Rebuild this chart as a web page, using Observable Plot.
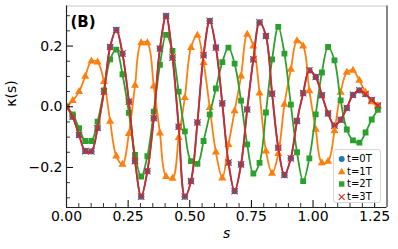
<!DOCTYPE html>
<html><head><meta charset="utf-8">
<script src="https://cdn.jsdelivr.net/npm/d3@7"></script>
<script src="https://cdn.jsdelivr.net/npm/@observablehq/plot@0.6"></script>
<style>
html,body{margin:0;padding:0;background:#fff;}
#wrap{position:relative;width:398px;height:249px;font-family:"DejaVu Sans",sans-serif;}
#legend{position:absolute;left:333px;top:149px;width:48px;height:54px;box-sizing:border-box;border:1px solid #d6d6d6;border-radius:3px;background:rgba(255,255,255,0.85);}
.row{position:absolute;left:0;height:12px;width:46px;}
.row svg{position:absolute;left:2px;top:0;}
.row span{position:absolute;left:13px;top:-1px;font-size:10px;line-height:14px;color:#000;white-space:nowrap;}
</style></head><body><div id="wrap"></div>
<script>
// ---- data ----
const sVals = [0, 0.025, 0.051, 0.076, 0.101, 0.126, 0.152, 0.177, 0.202, 0.227,
  0.253, 0.278, 0.303, 0.328, 0.354, 0.379, 0.404, 0.430, 0.455, 0.480,
  0.505, 0.531, 0.556, 0.581, 0.606, 0.632, 0.657, 0.682, 0.708, 0.733,
  0.758, 0.783, 0.809, 0.834, 0.859, 0.884, 0.910, 0.935, 0.960, 0.985,
  1.011, 1.036, 1.061, 1.087, 1.112, 1.137, 1.162, 1.188, 1.213, 1.238, 1.263];
const kappaT0 = [0, -0.033, -0.093, -0.146, -0.147, -0.070, 0.050, 0.197, 0.253, 0.175,
  0.017, -0.179, -0.296, -0.212, -0.038, 0.192, 0.299, 0.162, -0.066, -0.296,
  -0.245, -0.052, 0.170, 0.283, 0.195, 0.011, -0.184, -0.278, -0.190, -0.009,
  0.156, 0.278, 0.233, 0.043, -0.135, -0.225, -0.170, -0.047, 0.045, 0.120,
  0.098, 0.038, -0.022, -0.062, -0.043, -0.004, 0.039, 0.054, 0.042, 0.022, 0.004];
const kappaT1 = [0, 0.020, 0.050, 0.100, 0.150, 0.147, 0.083, -0.048, -0.163, -0.190,
  -0.089, 0.070, 0.210, 0.210, 0.068, -0.087, -0.230, -0.236, -0.102, 0.030,
  0.195, 0.235, 0.145, -0.003, -0.150, -0.235, -0.125, -0.014, 0.101, 0.238,
  0.200, 0.045, -0.146, -0.220, -0.155, 0.008, 0.123, 0.217, 0.200, 0.052,
  -0.075, -0.185, -0.180, -0.080, 0.047, 0.113, 0.120, 0.087, 0.047, 0.016, 0.002];
const kappaT2 = [0, -0.025, -0.071, -0.113, -0.113, -0.049, 0.054, 0.156, 0.188, 0.107,
  -0.020, -0.159, -0.230, -0.163, -0.016, 0.138, 0.237, 0.184, 0.050, -0.081,
  -0.179, -0.188, -0.113, -0.025, 0.060, 0.147, 0.195, 0.142, 0.020, -0.124,
  -0.220, -0.185, -0.019, 0.156, 0.263, 0.175, 0.007, -0.150, -0.245, -0.170,
  -0.025, 0.113, 0.197, 0.153, 0.021, -0.075, -0.111, -0.118, -0.085, -0.042, -0.010];
const kappaT3 = [0, -0.033, -0.093, -0.146, -0.147, -0.070, 0.050, 0.197, 0.253, 0.175,
  0.017, -0.179, -0.296, -0.212, -0.038, 0.192, 0.299, 0.162, -0.066, -0.296,
  -0.245, -0.052, 0.170, 0.283, 0.195, 0.011, -0.184, -0.278, -0.190, -0.009,
  0.156, 0.278, 0.233, 0.043, -0.135, -0.225, -0.170, -0.047, 0.045, 0.120,
  0.098, 0.038, -0.022, -0.062, -0.043, -0.004, 0.039, 0.054, 0.042, 0.022, 0.004];
const seriesNames = ["t=0T", "t=1T", "t=2T", "t=3T"];
const xMajorTicks = [0, 0.25, 0.5, 0.75, 1.0, 1.25];
const xTickLabels = ["0.00", "0.25", "0.50", "0.75", "1.00", "1.25"];
const xMinorTicks = [0.05,0.1,0.15,0.2,0.3,0.35,0.4,0.45,0.55,0.6,0.65,0.7,0.8,0.85,0.9,0.95,1.05,1.1,1.15,1.2];
const yMajorTicks = [-0.2, 0, 0.2];
const yTickLabels = ["\u22120.2", "0.0", "0.2"];
const yMinorTicks = [-0.3,-0.25,-0.15,-0.1,-0.05,0.05,0.1,0.15,0.25,0.3];

// ---- style ----
const colors = ["#1f77b4", "#ff7f0e", "#2ca02c", "#d62728"];
const symbols = ["circle", "triangle", "square", "times"];
const radii = [3.2, 3.0, 3.3, 3.0];
const W = 398, H = 249, mL = 66, mR = 11.5, mT = 5.5, mB = 42;
const fw = W - mL - mR, fh = H - mT - mB;
const xDomain = [0, 1.3], yDomain = [-0.332, 0.332];

const allK = [kappaT0, kappaT1, kappaT2, kappaT3];
const marks = [];
allK.forEach((arr, j) => {
  const data = sVals.map((s, i) => ({s, k: arr[i], series: seriesNames[j]}));
  marks.push(Plot.line(data, {x: "s", y: "k", stroke: colors[j], strokeWidth: 1.8, curve: "catmull-rom", clip: true}));
  if (symbols[j] === "times") {
    marks.push(Plot.dot(data, {x: "s", y: "k", symbol: "times", r: radii[j], stroke: colors[j], fill: "none", strokeWidth: 1.1, clip: true}));
  } else {
    marks.push(Plot.dot(data, {x: "s", y: "k", symbol: symbols[j], r: radii[j], fill: colors[j], stroke: "none", clip: true}));
  }
});

const chart = Plot.plot({
  width: W, height: H,
  marginLeft: mL, marginRight: mR, marginTop: mT, marginBottom: mB,
  x: {domain: xDomain, axis: null},
  y: {domain: yDomain, axis: null},
  style: {fontFamily: "DejaVu Sans", fontSize: "14px", background: "transparent", overflow: "visible", color: "#000"},
  marks: [
    ...marks,
    // ticks (inward)
    Plot.tickX(xMinorTicks, {x: d => d, insetTop: fh - 4, stroke: "#000", strokeWidth: 0.8}),
    Plot.tickX(xMajorTicks, {x: d => d, insetTop: fh - 7, stroke: "#000", strokeWidth: 1}),
    Plot.tickY(yMinorTicks, {y: d => d, insetRight: fw - 4, stroke: "#000", strokeWidth: 0.8}),
    Plot.tickY(yMajorTicks, {y: d => d, insetRight: fw - 7, stroke: "#000", strokeWidth: 1}),
    // spines
    Plot.ruleY([yDomain[1]], {stroke: "#c8c8c8", strokeWidth: 1}),
    Plot.ruleX([xDomain[1]], {stroke: "#222", strokeWidth: 1.1}),
    Plot.ruleX([xDomain[0]], {stroke: "#222", strokeWidth: 1.2}),
    Plot.ruleY([yDomain[0]], {stroke: "#222", strokeWidth: 1.2}),
    // tick labels
    Plot.text(xMajorTicks, {x: d => d, frameAnchor: "bottom", dy: 4, lineAnchor: "top", text: (d, i) => xTickLabels[i], fontSize: 14}),
    Plot.text(yMajorTicks, {y: d => d, frameAnchor: "left", dx: -4, textAnchor: "end", lineAnchor: "middle", text: (d, i) => yTickLabels[i], fontSize: 14}),
    // axis labels
    Plot.text(["\u03ba(s)"], {frameAnchor: "left", dx: -55, rotate: -90, text: d => d, fontSize: 14}),
    Plot.text(["s"], {frameAnchor: "bottom", dy: 26, lineAnchor: "middle", text: d => d, fontSize: 14, fontStyle: "italic"}),
    Plot.text(["(B)"], {frameAnchor: "top-left", dx: 4, dy: 16, textAnchor: "start", lineAnchor: "middle", text: d => d, fontSize: 15, fontWeight: "bold"})
  ]
});
const wrap = document.getElementById("wrap");
wrap.appendChild(chart);

// legend
const legend = document.createElement("div");
legend.id = "legend";
const rowTops = [3, 15.6, 28.3, 41];
seriesNames.forEach((name, j) => {
  const row = document.createElement("div");
  row.className = "row";
  row.style.top = rowTops[j] + "px";
  const sym = d3.symbol().type(symbols[j] === "circle" ? d3.symbolCircle : symbols[j] === "triangle" ? d3.symbolTriangle : symbols[j] === "square" ? d3.symbolSquare : d3.symbolTimes).size(Math.PI * radii[j] * radii[j] * 0.85)();
  const filled = symbols[j] !== "times";
  row.innerHTML = `<svg width="12" height="12"><path transform="translate(5.7,6)" d="${sym}" fill="${filled ? colors[j] : "none"}" stroke="${filled ? "none" : colors[j]}" stroke-width="1.1"/></svg><span>${name}</span>`;
  legend.appendChild(row);
});
wrap.appendChild(legend);
</script></body></html>
